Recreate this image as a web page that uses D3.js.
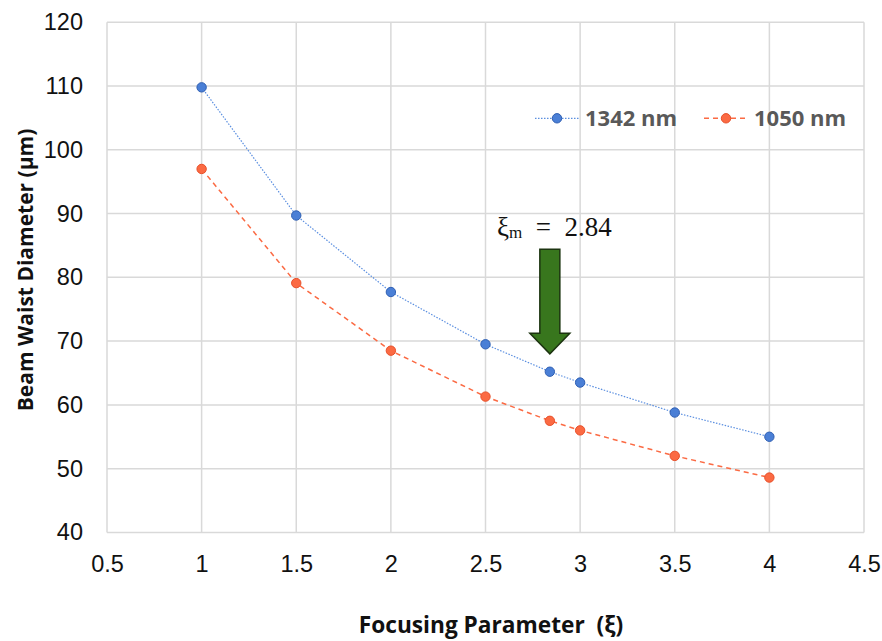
<!DOCTYPE html>
<html><head><meta charset="utf-8">
<script src="https://cdn.jsdelivr.net/npm/d3@7"></script>
<style>body{margin:0;background:#fff}</style>
</head><body>
<svg id="c" width="882" height="641"></svg>
<script>
const xi = [1, 1.5, 2, 2.5, 2.84, 3, 3.5, 4];
const d1342 = [109.8, 89.7, 77.7, 69.5, 65.2, 63.5, 58.8, 55.0];
const d1050 = [97.0, 79.1, 68.5, 61.3, 57.5, 56.0, 52.0, 48.6];
const xTicks = [0.5, 1, 1.5, 2, 2.5, 3, 3.5, 4, 4.5];
const yTicks = [40, 50, 60, 70, 80, 90, 100, 110, 120];
const seriesNames = ["1342 nm", "1050 nm"];
const annotX = 2.84, annotTop = 84.4, annotTip = 68.0;

const svg = d3.select("#c");
const x = d3.scaleLinear().domain([0.5, 4.5]).range([107, 864]);
const y = d3.scaleLinear().domain([40, 120]).range([532.4, 22.3]);

const grid = "#d9d9d9";
svg.append("g").selectAll("line").data(yTicks).join("line")
  .attr("x1", x(0.5)).attr("x2", x(4.5)).attr("y1", d => y(d)).attr("y2", d => y(d))
  .attr("stroke", grid).attr("stroke-width", 1.5);
svg.append("g").selectAll("line").data(xTicks).join("line")
  .attr("y1", y(40)).attr("y2", y(120)).attr("x1", d => x(d)).attr("x2", d => x(d))
  .attr("stroke", grid).attr("stroke-width", 1.5);

const yAxis = d3.axisLeft(y).tickValues(yTicks).tickSize(0).tickPadding(24);
const gy = svg.append("g").attr("transform", `translate(${x(0.5)},0)`).call(yAxis);
gy.select(".domain").remove();
gy.selectAll("text").attr("font-family", "Liberation Sans, Arial, sans-serif").attr("font-size", 23.5).attr("fill", "#111");

const xAxis = d3.axisBottom(x).tickValues(xTicks).tickSize(0).tickPadding(23).tickFormat(d3.format("~g"));
const gx = svg.append("g").attr("transform", `translate(0,${y(40)})`).call(xAxis);
gx.select(".domain").remove();
gx.selectAll("text").attr("font-family", "Liberation Sans, Arial, sans-serif").attr("font-size", 23.5).attr("fill", "#111");

const line = d3.line().x(d => x(d[0])).y(d => y(d[1]));
const s1 = xi.map((v, i) => [v, d1342[i]]);
const s2 = xi.map((v, i) => [v, d1050[i]]);
const blue = "#4a7fd6", blueS = "#2f5fb3", orange = "#fb6a43", orangeS = "#e8502a";

svg.append("path").datum(s1).attr("d", line).attr("fill", "none")
  .attr("stroke", "#5b8fe0").attr("stroke-width", 1.2).attr("stroke-dasharray", "1.5,1.5");
svg.append("path").datum(s2).attr("d", line).attr("fill", "none")
  .attr("stroke", orange).attr("stroke-width", 1.5).attr("stroke-dasharray", "5,4");

svg.append("g").selectAll("circle").data(s1).join("circle")
  .attr("cx", d => x(d[0])).attr("cy", d => y(d[1])).attr("r", 4.7)
  .attr("fill", blue).attr("stroke", blueS).attr("stroke-width", 1);
svg.append("g").selectAll("circle").data(s2).join("circle")
  .attr("cx", d => x(d[0])).attr("cy", d => y(d[1])).attr("r", 4.7)
  .attr("fill", orange).attr("stroke", orangeS).attr("stroke-width", 1);

const leg = svg.append("g").attr("font-family", "Open Sans, Calibri, sans-serif").attr("font-weight", "bold").attr("font-size", 22).attr("fill", "#595959");
const legItems = [
  {name: seriesNames[0], x0: 535, color: "#5b8fe0", dash: "1.5,1.5", fill: blue, st: blueS, w: 1.2},
  {name: seriesNames[1], x0: 704, color: orange, dash: "5,4", fill: orange, st: orangeS, w: 1.5}
];
legItems.forEach(it => {
  leg.append("line").attr("x1", it.x0).attr("x2", it.x0 + 44).attr("y1", 118.3).attr("y2", 118.3)
    .attr("stroke", it.color).attr("stroke-width", it.w).attr("stroke-dasharray", it.dash);
  leg.append("circle").attr("cx", it.x0 + 22).attr("cy", 118.3).attr("r", 4.7).attr("fill", it.fill).attr("stroke", it.st);
  leg.append("text").attr("x", it.x0 + 50).attr("y", 126).text(it.name);
});

const ax = x(annotX), aTop = y(annotTop), aTip = y(annotTip);
const sw = 10, hw = 20, hh = 20.6;
svg.append("path")
  .attr("d", `M${ax - sw},${aTop} L${ax + sw},${aTop} L${ax + sw},${aTip - hh} L${ax + hw},${aTip - hh} L${ax},${aTip} L${ax - hw},${aTip - hh} L${ax - sw},${aTip - hh} Z`)
  .attr("fill", "#38761d").attr("stroke", "#1c3410").attr("stroke-width", 1.5);
const at = svg.append("text").attr("x", 497).attr("y", 236)
  .attr("font-family", "Liberation Serif, DejaVu Serif, serif").attr("font-size", 27).attr("fill", "#111")
  .style("white-space", "pre");
at.append("tspan").text("ξ");
at.append("tspan").attr("font-size", 17).attr("dy", 2).text("m");
at.append("tspan").attr("dy", -2).text("  =  2.84");

svg.append("text").attr("x", 491).attr("y", 633).attr("text-anchor", "middle")
  .attr("font-family", "Open Sans, Calibri, sans-serif").attr("font-weight", "bold").attr("font-size", 22.7).attr("fill", "#111")
  .style("white-space", "pre").text("Focusing Parameter  (ξ)");
svg.append("text").attr("transform", "translate(33,270) rotate(-90)").attr("text-anchor", "middle")
  .attr("font-family", "Open Sans, Calibri, sans-serif").attr("font-weight", "bold").attr("font-size", 21).attr("fill", "#111")
  .text("Beam Waist Diameter (μm)");
</script>
</body></html>
